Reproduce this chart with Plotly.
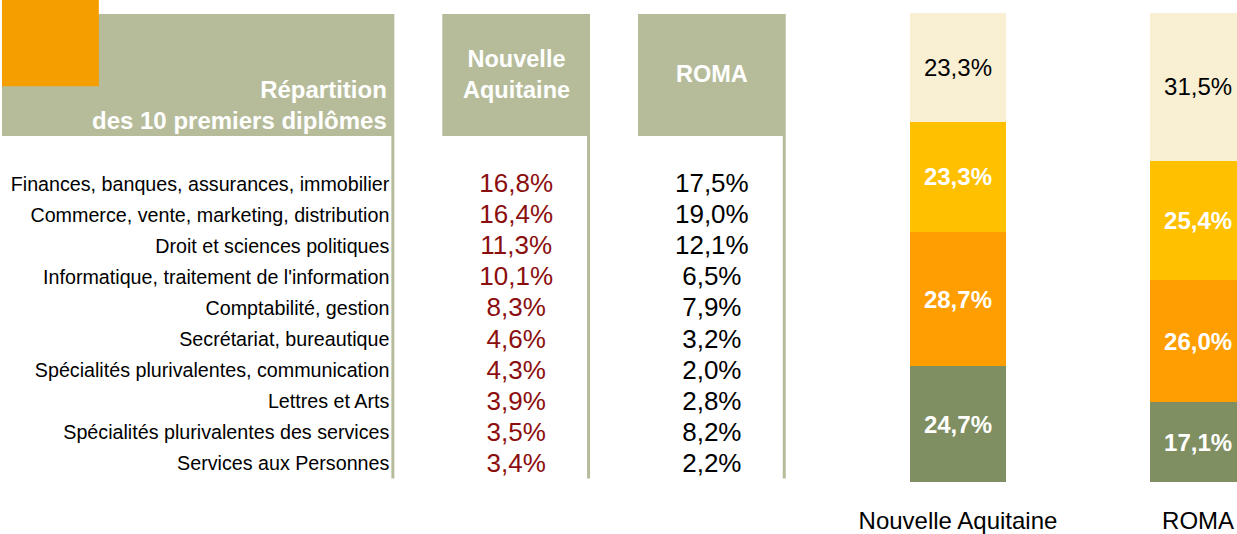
import plotly.graph_objects as go

# ---------------- data ----------------
diplomes = [
    "Finances, banques, assurances, immobilier",
    "Commerce, vente, marketing, distribution",
    "Droit et sciences politiques",
    "Informatique, traitement de l'information",
    "Comptabilité, gestion",
    "Secrétariat, bureautique",
    "Spécialités plurivalentes, communication",
    "Lettres et Arts",
    "Spécialités plurivalentes des services",
    "Services aux Personnes",
]
na_values = [16.8, 16.4, 11.3, 10.1, 8.3, 4.6, 4.3, 3.9, 3.5, 3.4]
roma_values = [17.5, 19.0, 12.1, 6.5, 7.9, 3.2, 2.0, 2.8, 8.2, 2.2]

bar_categories = ["Nouvelle Aquitaine", "ROMA"]
# stacked segments, bottom to top
seg_green = [24.7, 17.1]
seg_orange = [28.7, 26.0]
seg_yellow = [23.3, 25.4]
seg_cream = [23.3, 31.5]

header_title = "Répartition<br>des 10 premiers diplômes"
header_na = "Nouvelle<br>Aquitaine"
header_roma = "ROMA"

# ---------------- layout constants ----------------
W, H = 1237, 534
FONT = "Liberation Sans, Arial, sans-serif"
BAND = "#B6BC9A"
ORANGE_SQ = "#F59E00"
C_CREAM = "#F9EFD3"
C_YELLOW = "#FFC000"
C_ORANGE = "#FF9E00"
C_GREEN = "#7F8F62"
C_RED = "#8B0E0E"


def fx(px):
    return px / W


def fy(py):
    return 1 - py / H


def fmt(v):
    return f"{v:.1f}%".replace(".", ",")


fig = go.Figure()

# ---------- stacked bars ----------
segments = [
    (seg_green, C_GREEN, "white", True),
    (seg_orange, C_ORANGE, "white", True),
    (seg_yellow, C_YELLOW, "white", True),
    (seg_cream, C_CREAM, "black", False),
]
for vals, col, tcol, bold in segments:
    fig.add_trace(go.Bar(
        x=bar_categories, y=vals,
        marker=dict(color=col, line=dict(width=0)),
        text=[fmt(v) for v in vals],
        textposition="inside", insidetextanchor="middle", textangle=0,
        textfont=dict(color=tcol, size=24, family=FONT, weight="bold" if bold else "normal"),
        xaxis="x", yaxis="y", showlegend=False, hoverinfo="skip",
    ))

# ---------- table text ----------
LABEL_X, NA_X, ROMA_X = 388, 515, 711
fig.add_trace(go.Scatter(
    x=[LABEL_X] * len(diplomes), y=diplomes, mode="text", text=diplomes,
    textposition="middle left",
    textfont=dict(size=19.7, color="#000000", family=FONT),
    xaxis="x2", yaxis="y2", showlegend=False, hoverinfo="skip",
))
fig.add_trace(go.Scatter(
    x=[NA_X] * len(diplomes), y=diplomes, mode="text", text=[fmt(v) for v in na_values],
    textposition="middle center",
    textfont=dict(size=26, color=C_RED, family=FONT),
    xaxis="x2", yaxis="y2", showlegend=False, hoverinfo="skip",
))
fig.add_trace(go.Scatter(
    x=[ROMA_X] * len(diplomes), y=diplomes, mode="text", text=[fmt(v) for v in roma_values],
    textposition="middle center",
    textfont=dict(size=26, color="#000000", family=FONT),
    xaxis="x2", yaxis="y2", showlegend=False, hoverinfo="skip",
))

# ---------- shapes ----------
shapes = []


def rect(x0, y0, x1, y1, color):
    shapes.append(dict(type="rect", xref="paper", yref="paper",
                       x0=fx(x0), x1=fx(x1), y0=fy(y1), y1=fy(y0),
                       fillcolor=color, line=dict(width=0), layer="below"))


rect(0, 14, 393, 137, BAND)
rect(441, 14, 589, 137, BAND)
rect(637, 14, 785, 137, BAND)
rect(0, 0, 97, 87, ORANGE_SQ)
rect(390, 137, 393, 482, BAND)
rect(586, 137, 589, 482, BAND)
rect(782, 137, 785, 482, BAND)

annotations = [
    dict(text=header_title, xref="paper", yref="paper", x=fx(388), y=fy(106),
         xanchor="right", yanchor="middle", align="right", showarrow=False,
         font=dict(size=24, color="white", family=FONT, weight="bold")),
    dict(text=header_na, xref="paper", yref="paper", x=fx(515), y=fy(75),
         xanchor="center", yanchor="middle", align="center", showarrow=False,
         font=dict(size=23.5, color="white", family=FONT, weight="bold")),
    dict(text=header_roma, xref="paper", yref="paper", x=fx(711), y=fy(75),
         xanchor="center", yanchor="middle", align="center", showarrow=False,
         font=dict(size=23.5, color="white", family=FONT, weight="bold")),
]

# bar axis geometry
BAR_NA_CX, BAR_ROMA_CX = 957.5, 1198.0
BAR_W = 97
BAR_TOP, BAR_BOT = 13, 486
step = BAR_ROMA_CX - BAR_NA_CX
dom_x0 = 860
x_range = [(dom_x0 - BAR_NA_CX) / step, (W - BAR_NA_CX) / step]

# table axis geometry
ROW0, ROWN = 187, 469
row_step = (ROWN - ROW0) / (len(diplomes) - 1)
y2_range = [(H - ROW0) / row_step, -ROW0 / row_step]

fig.update_layout(
    width=W, height=H,
    margin=dict(l=0, r=0, t=0, b=0),
    paper_bgcolor="white", plot_bgcolor="rgba(0,0,0,0)",
    barmode="stack", bargap=1 - BAR_W / step,
    shapes=shapes, annotations=annotations,
    font=dict(family=FONT),
    xaxis=dict(domain=[fx(dom_x0), 1], range=x_range, type="category",
               showgrid=False, zeroline=False, showline=False, ticks="",
               tickfont=dict(size=24, color="black", family=FONT),
               ticklabelstandoff=22, fixedrange=True),
    yaxis=dict(domain=[fy(BAR_BOT), fy(BAR_TOP)], range=[0, 100],
               showgrid=False, zeroline=False, showline=False,
               showticklabels=False, ticks="", fixedrange=True),
    xaxis2=dict(domain=[0, 1], range=[0, W], anchor="y2",
                visible=False, fixedrange=True),
    yaxis2=dict(domain=[0, 1], range=y2_range, anchor="x2", type="category",
                categoryorder="array", categoryarray=diplomes,
                visible=False, fixedrange=True),
)

fig.write_html(
    "out.html",
    config={"displayModeBar": False},
    post_script="document.body.style.margin='0';document.body.style.overflow='hidden';",
)
